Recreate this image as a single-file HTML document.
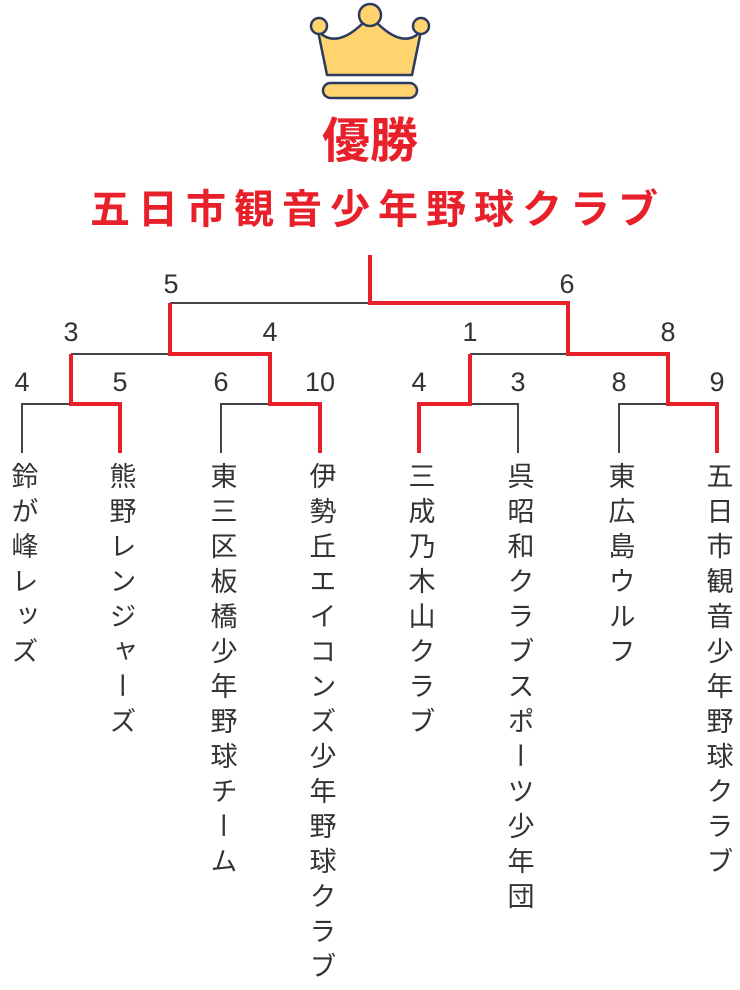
<!DOCTYPE html>
<html><head><meta charset="utf-8"><style>
body{margin:0;width:740px;height:990px;background:#fff;position:relative;overflow:hidden;font-family:"Liberation Sans","Noto Sans CJK JP",sans-serif}
.t{position:absolute;left:0;width:740px;text-align:center;color:#e8202a;font-weight:bold;font-size:40px;line-height:1}
.n{position:absolute;font-size:27px;color:#333;transform:translateX(-50%);line-height:1}
.v{position:absolute;top:462px;writing-mode:vertical-rl;font-size:27px;letter-spacing:8px;color:#333;transform:translateX(-50%);line-height:1}
</style></head><body>
<svg width="740" height="990" style="position:absolute;left:0;top:0">
<g stroke="#2b3a5e" stroke-width="2.5" fill="#ffd46e" stroke-linejoin="round">
<path d="M318,31 L327,75 L412,75 L421,31 Q404,50 376,22 L364,22 Q336,50 318,31 Z"/>
<circle cx="319" cy="26" r="8"/><circle cx="370" cy="15" r="11"/><circle cx="421" cy="26" r="8"/>
<rect x="323" y="83" width="94" height="15" rx="7.5"/>
</g>
<g stroke="#444" stroke-width="2" fill="none">
<path d="M22,453V404H71"/><path d="M221,453V404H270"/><path d="M470,404H518V453"/><path d="M619,453V404H668"/>
<path d="M71,354H170"/><path d="M470,354H568"/><path d="M170,303H370"/>
</g>
<g stroke="#e8202a" stroke-width="4" fill="none" stroke-linejoin="miter">
<path d="M120,453V404H71V354"/>
<path d="M320,453V404H270V354H170V303"/>
<path d="M419,453V404H470V354"/>
<path d="M717,453V404H668V354H568V303H370V255"/>
</g>
</svg>
<div class="t" style="top:118px;font-size:48px">優勝</div>
<div class="t" style="top:190px;letter-spacing:8px;padding-left:8px">五日市観音少年野球クラブ</div>
<div class="n" style="left:171px;top:271px">5</div>
<div class="n" style="left:567px;top:271px">6</div>
<div class="n" style="left:71px;top:319px">3</div>
<div class="n" style="left:270px;top:319px">4</div>
<div class="n" style="left:470px;top:319px">1</div>
<div class="n" style="left:668px;top:319px">8</div>
<div class="n" style="left:22px;top:369px">4</div>
<div class="n" style="left:120px;top:369px">5</div>
<div class="n" style="left:221px;top:369px">6</div>
<div class="n" style="left:320px;top:369px">10</div>
<div class="n" style="left:419px;top:369px">4</div>
<div class="n" style="left:518px;top:369px">3</div>
<div class="n" style="left:619px;top:369px">8</div>
<div class="n" style="left:717px;top:369px">9</div>
<div class="v" style="left:22px">鈴が峰レッズ</div>
<div class="v" style="left:120px">熊野レンジャーズ</div>
<div class="v" style="left:221px">東三区板橋少年野球チーム</div>
<div class="v" style="left:320px">伊勢丘エイコンズ少年野球クラブ</div>
<div class="v" style="left:419px">三成乃木山クラブ</div>
<div class="v" style="left:518px">呉昭和クラブスポーツ少年団</div>
<div class="v" style="left:619px">東広島ウルフ</div>
<div class="v" style="left:717px">五日市観音少年野球クラブ</div>
</body></html>
